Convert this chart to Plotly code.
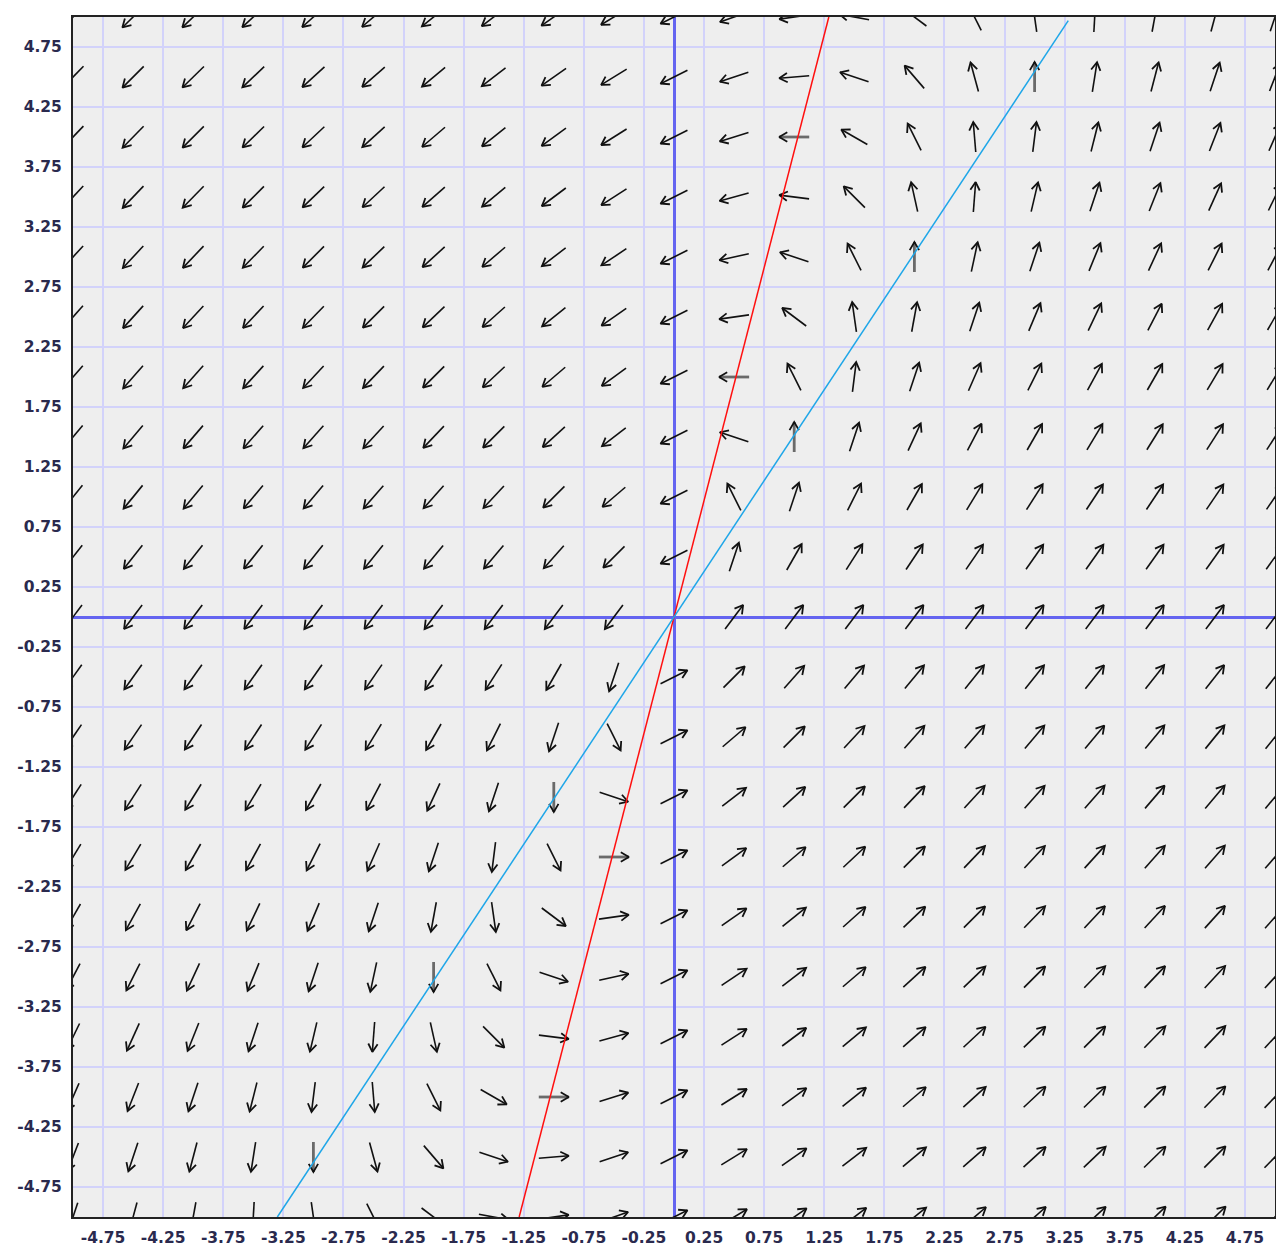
import numpy as np
import plotly.graph_objects as go

# ---- data -------------------------------------------------------------
# grid points of the direction field
grid_x = [-5.0, -4.5, -4.0, -3.5, -3.0, -2.5, -2.0, -1.5, -1.0, -0.5, 0.0,
          0.5, 1.0, 1.5, 2.0, 2.5, 3.0, 3.5, 4.0, 4.5, 5.0]
grid_y = [-5.0, -4.5, -4.0, -3.5, -3.0, -2.5, -2.0, -1.5, -1.0, -0.5, 0.0,
          0.5, 1.0, 1.5, 2.0, 2.5, 3.0, 3.5, 4.0, 4.5, 5.0]

# linear system  x' = 3x - 2y ,  y' = 4x - y
coef_dx = [3.0, -2.0]
coef_dy = [4.0, -1.0]

# nullclines
red_x = [-1.288, 1.288]
red_y = [-5.0, 5.0]
blue_x = [-3.30, 3.28]
blue_y = [-5.0, 4.97]

tick_vals = [-4.75, -4.25, -3.75, -3.25, -2.75, -2.25, -1.75, -1.25, -0.75, -0.25,
             0.25, 0.75, 1.25, 1.75, 2.25, 2.75, 3.25, 3.75, 4.25, 4.75]
tick_text = ["-4.75", "-4.25", "-3.75", "-3.25", "-2.75", "-2.25", "-1.75", "-1.25",
             "-0.75", "-0.25", "0.25", "0.75", "1.25", "1.75", "2.25", "2.75",
             "3.25", "3.75", "4.25", "4.75"]

# ---- styles -----------------------------------------------------------
ARROW_LEN = 0.25
HEAD_LEN = 0.078
HEAD_ANG = np.radians(30)

shaft_x, shaft_y = [], []
gray_x, gray_y = [], []
head_x, head_y = [], []

for yv in grid_y:
    for xv in grid_x:
        u = coef_dx[0] * xv + coef_dx[1] * yv
        v = coef_dy[0] * xv + coef_dy[1] * yv
        n = np.hypot(u, v)
        if n == 0:
            continue
        dx, dy = u / n, v / n
        tx, ty = xv - dx * ARROW_LEN / 2, yv - dy * ARROW_LEN / 2
        hx, hy = xv + dx * ARROW_LEN / 2, yv + dy * ARROW_LEN / 2
        if u == 0 or v == 0:
            gray_x += [tx, hx, None]
            gray_y += [ty, hy, None]
        else:
            shaft_x += [tx, hx, None]
            shaft_y += [ty, hy, None]
        bx, by = -dx, -dy
        c, s = np.cos(HEAD_ANG), np.sin(HEAD_ANG)
        b1 = (bx * c - by * s, bx * s + by * c)
        b2 = (bx * c + by * s, -bx * s + by * c)
        head_x += [hx + b1[0] * HEAD_LEN, hx, hx + b2[0] * HEAD_LEN, None]
        head_y += [hy + b1[1] * HEAD_LEN, hy, hy + b2[1] * HEAD_LEN, None]

fig = go.Figure()
fig.add_trace(go.Scatter(x=gray_x, y=gray_y, mode="lines",
                         line=dict(color="#6a6a6a", width=2.8),
                         hoverinfo="skip", showlegend=False))
fig.add_trace(go.Scatter(x=shaft_x, y=shaft_y, mode="lines",
                         line=dict(color="#111111", width=1.6),
                         hoverinfo="skip", showlegend=False))
fig.add_trace(go.Scatter(x=head_x, y=head_y, mode="lines",
                         line=dict(color="#111111", width=1.8),
                         hoverinfo="skip", showlegend=False))
fig.add_trace(go.Scatter(x=red_x, y=red_y, mode="lines",
                         line=dict(color="#ff1010", width=1.5),
                         hoverinfo="skip", showlegend=False))
fig.add_trace(go.Scatter(x=blue_x, y=blue_y, mode="lines",
                         line=dict(color="#1ea6e8", width=1.5),
                         hoverinfo="skip", showlegend=False))

tickfont = dict(family="DejaVu Sans", size=15.5, color="#2a2a4e", weight="bold")
axis_common = dict(
    range=[-5, 5],
    tickmode="array",
    tickvals=tick_vals,
    ticktext=tick_text,
    showgrid=True,
    gridcolor="#d2d2fa",
    gridwidth=2,
    zeroline=True,
    zerolinecolor="#6464f0",
    zerolinewidth=3,
    showline=True,
    mirror=True,
    linecolor="#222222",
    linewidth=2,
    ticks="outside",
    tickcolor="rgba(0,0,0,0)",
    tickfont=tickfont,
    fixedrange=True,
    automargin=False,
)

fig.update_layout(
    width=1276,
    height=1249,
    margin=dict(l=73, r=1, t=17, b=32, pad=0),
    paper_bgcolor="white",
    plot_bgcolor="#eeeeee",
    xaxis=dict(axis_common, ticklen=5),
    yaxis=dict(axis_common, ticklen=6),
    showlegend=False,
)

fig.write_html("out.html", post_script="document.body.style.margin='0px';",
               config={"displayModeBar": False})
